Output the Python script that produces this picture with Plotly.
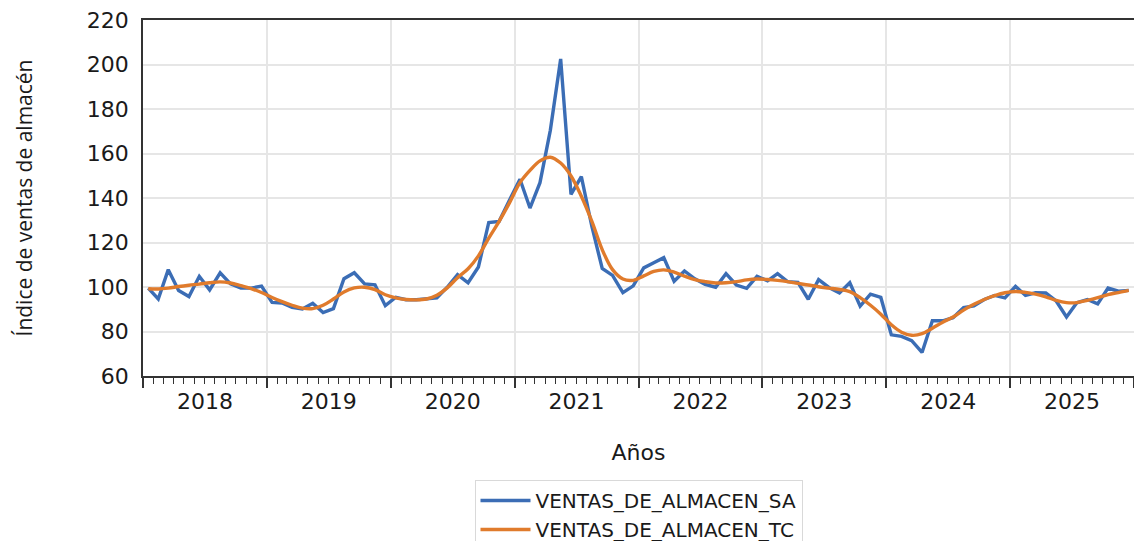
import pandas as pd
import plotly.graph_objects as go

months = pd.date_range("2018-01-01", periods=96, freq="MS")

ventas_sa = [
    99.5, 94.6, 107.8, 98.4, 95.7, 104.8, 98.7, 106.4, 101.4, 99.5, 99.5, 100.4,
    93.1, 92.8, 90.8, 90.1, 92.7, 88.5, 90.3, 103.7, 106.4, 101.4, 101.0, 91.6,
    95.4, 94.3, 94.3, 94.6, 95.1, 99.9, 105.6, 101.9, 109.0, 129.0, 129.5, 139.0,
    148.4, 135.5, 146.9, 170.4, 202.5, 141.6, 149.6, 127.2, 108.3, 105.2, 97.5, 100.5,
    108.6, 110.9, 113.2, 102.6, 107.2, 103.7, 101.2, 99.9, 106.0, 100.9, 99.4, 104.8,
    102.8, 106.0, 102.4, 102.1, 94.5, 103.3, 99.8, 97.3, 101.9, 91.4, 96.8, 95.3,
    78.5, 77.8, 75.9, 70.6, 84.8, 84.8, 86.2, 90.7, 91.5, 94.4, 96.2, 95.1,
    100.3, 96.2, 97.4, 97.3, 93.7, 86.5, 92.9, 94.4, 92.4, 99.5, 98.1, 98.5,
]

ventas_tc = [
    99.2, 99.1, 99.5, 100.2, 100.8, 101.3, 101.9, 102.3, 101.8, 100.6, 99.3, 97.5,
    95.3, 93.4, 91.8, 90.5, 90.3, 91.8, 94.6, 97.8, 99.6, 99.9, 98.8, 96.5,
    95.1, 94.4, 94.2, 94.6, 96.3, 99.6, 104.2, 108.2, 114.0, 122.0, 129.5, 137.8,
    146.9, 152.4, 156.7, 158.3, 155.7, 149.9, 140.8, 129.5, 116.8, 107.8, 103.6, 103.0,
    105.0, 107.0, 107.7, 106.7, 104.9, 103.3, 102.4, 101.8, 101.9, 102.4, 103.2, 103.6,
    103.4, 103.0, 102.4, 101.6, 100.9, 100.1, 99.5, 98.9, 97.9, 95.2, 91.8, 87.8,
    83.0, 79.7, 78.3, 79.0, 81.5, 84.2, 86.5, 89.6, 92.2, 94.4, 96.1, 97.4,
    98.0, 97.6, 96.8, 95.6, 94.0, 93.0, 93.0, 94.0, 95.2, 96.6, 97.5, 98.5,
]

series_names = ["VENTAS_DE_ALMACEN_SA", "VENTAS_DE_ALMACEN_TC"]
y_title = "Índice de ventas de almacén"
x_title = "Años"

fig = go.Figure()
fig.add_trace(go.Scatter(
    x=months, y=ventas_sa, name=series_names[0], mode="lines",
    xperiod="M1", xperiodalignment="middle",
    line=dict(color="#3b6db5", width=3.4),
))
fig.add_trace(go.Scatter(
    x=months, y=ventas_tc, name=series_names[1], mode="lines",
    xperiod="M1", xperiodalignment="middle",
    line=dict(color="#e07b2c", width=3.4, shape="spline"),
))

font_main = "DejaVu Sans"
fig.update_layout(
    width=1134, height=541,
    margin=dict(l=143, r=0, t=20, b=165, autoexpand=False),
    paper_bgcolor="white", plot_bgcolor="white",
    showlegend=True,
    legend=dict(
        x=0.5, xanchor="center", y=-0.292, yanchor="top",
        bordercolor="#d9d9d9", borderwidth=1, bgcolor="white",
        font=dict(family=font_main, size=20, color="#1a1a1a"),
        tracegroupgap=0, itemwidth=50,
    ),
    xaxis=dict(
        type="date", automargin=False,
        range=["2018-01-01", "2026-01-01"],
        tick0="2018-01-01", dtick="M12", tickformat="%Y",
        ticklabelmode="period",
        ticks="outside", ticklen=10, tickwidth=1.5, tickcolor="#333333",
        showgrid=True, gridcolor="#e6e6e6", gridwidth=1.5,
        showline=True, linecolor="#333333", linewidth=1.5, mirror=True,
        minor=dict(dtick="M1", ticks="outside", ticklen=6, tickwidth=1.2,
                   tickcolor="#333333", showgrid=False),
        tickfont=dict(family=font_main, size=22, color="#1a1a1a"),
        ticklabelstandoff=-5,
        title=dict(text=x_title, font=dict(family=font_main, size=22, color="#1a1a1a"),
                   standoff=31),
    ),
    yaxis=dict(
        automargin=False,
        range=[60, 220], dtick=20, tick0=60,
        showgrid=True, gridcolor="#e6e6e6", gridwidth=1.5,
        showline=True, linecolor="#333333", linewidth=1.5,
        ticks="", zeroline=False,
        ticklabeloverflow="allow",
        tickfont=dict(family=font_main, size=22, color="#1a1a1a"),
        ticklabelstandoff=8,
        title=dict(text=y_title, font=dict(family="Open Sans", size=21, color="#1a1a1a"),
                   standoff=48),
    ),
)

fig.write_html(
    "out.html",
    config={"displayModeBar": False},
    post_script="document.body.style.margin='0px';document.body.style.overflow='hidden';",
)
